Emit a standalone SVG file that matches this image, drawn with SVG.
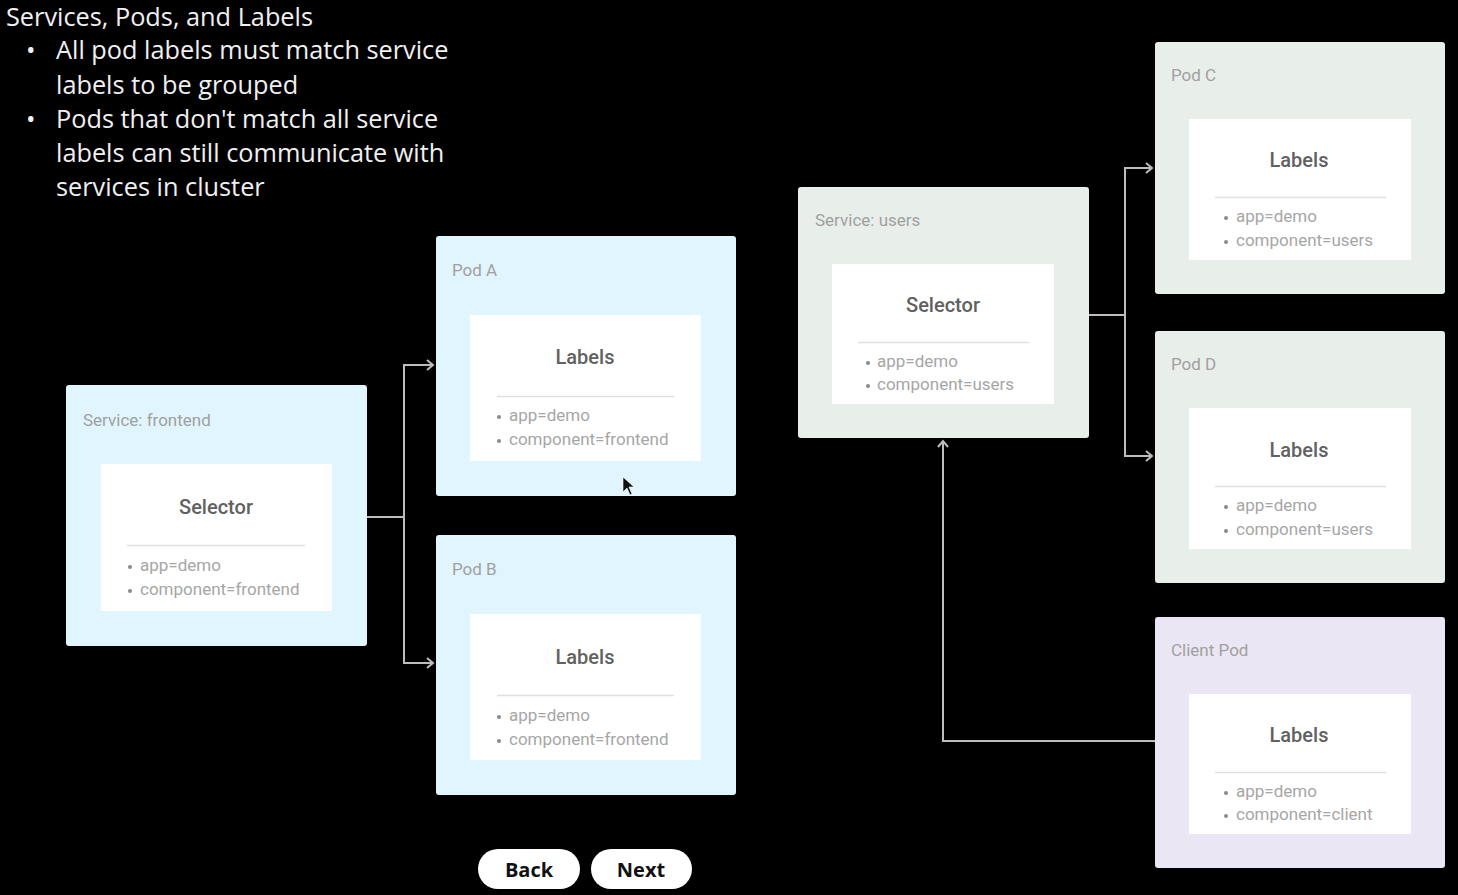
<svg xmlns="http://www.w3.org/2000/svg" width="1458" height="895" viewBox="0 0 1458 895">
<style>
.bg{fill:#000}
.h{font-family:"Open Sans","Noto Sans",sans-serif;font-size:25.3px;fill:#f0f0f0}
.blue{fill:#e1f5fe}
.green{fill:#e8efeb}
.purple{fill:#ebe6f3}
.card{fill:#fff}
.cap{font-family:Roboto,"Liberation Sans",sans-serif;font-size:17px;fill:#a0a0a0}
.ttl{font-family:Roboto,"Liberation Sans",sans-serif;font-size:20px;font-weight:500;fill:#616161;text-anchor:middle}
.li{font-family:Roboto,"Liberation Sans",sans-serif;font-size:17px;fill:#a6a6a6}
.dot{fill:#8a8a8a}
.div{stroke:#e0e0e0;stroke-width:1.5}
.con{fill:none;stroke:#bdbdbd;stroke-width:2}
.btn{fill:#fff}
.bt{font-family:"Open Sans","Noto Sans",sans-serif;font-size:20px;font-weight:700;fill:#111;text-anchor:middle}
</style>
<defs>
<marker id="arr" viewBox="0 0 12 12" refX="10" refY="6" markerWidth="12" markerHeight="12" markerUnits="userSpaceOnUse" orient="auto">
<path d="M4,1 L10,6 L4,11" fill="none" stroke="#bdbdbd" stroke-width="2"/>
</marker>
</defs>
<rect class="bg" x="0" y="0" width="1458" height="895"/>
<g id="heading">
<text class="h" x="6" y="26">Services, Pods, and Labels</text>
<text class="h" x="26" y="59">•</text>
<text class="h" x="56" y="59">All pod labels must match service</text>
<text class="h" x="56" y="94">labels to be grouped</text>
<text class="h" x="26" y="128">•</text>
<text class="h" x="56" y="128">Pods that don't match all service</text>
<text class="h" x="56" y="162">labels can still communicate with</text>
<text class="h" x="56" y="196">services in cluster</text>
</g>
<g id="connectors">
<path class="con" d="M367,517 H404"/>
<path class="con" d="M404,517 V365 H433" marker-end="url(#arr)"/>
<path class="con" d="M404,517 V663 H433" marker-end="url(#arr)"/>
<path class="con" d="M1089,315 H1125"/>
<path class="con" d="M1125,315 V168 H1152" marker-end="url(#arr)"/>
<path class="con" d="M1125,315 V456 H1152" marker-end="url(#arr)"/>
<path class="con" d="M1155,741 H943 V441" marker-end="url(#arr)"/>
</g>
<g id="service-frontend">
<rect class="blue" x="66" y="385" width="301" height="261" rx="3"/>
<text class="cap" x="83" y="426">Service: frontend</text>
<rect class="card" x="101" y="464" width="231" height="147"/>
<text class="ttl" x="216" y="514">Selector</text>
<line class="div" x1="127" y1="545.5" x2="305" y2="545.5"/>
<circle class="dot" cx="130" cy="567" r="2"/>
<circle class="dot" cx="130" cy="591" r="2"/>
<text class="li" x="140" y="571">app=demo</text>
<text class="li" x="140" y="595">component=frontend</text>
</g>
<g id="pod-a">
<rect class="blue" x="436" y="236" width="300" height="260" rx="3"/>
<text class="cap" x="452" y="276">Pod A</text>
<rect class="card" x="470" y="315" width="231" height="146"/>
<text class="ttl" x="585" y="364">Labels</text>
<line class="div" x1="497" y1="396.5" x2="674" y2="396.5"/>
<circle class="dot" cx="499" cy="417" r="2"/>
<circle class="dot" cx="499" cy="441" r="2"/>
<text class="li" x="509" y="421">app=demo</text>
<text class="li" x="509" y="445">component=frontend</text>
</g>
<g id="pod-b">
<rect class="blue" x="436" y="535" width="300" height="260" rx="3"/>
<text class="cap" x="452" y="575">Pod B</text>
<rect class="card" x="470" y="614" width="231" height="146"/>
<text class="ttl" x="585" y="664">Labels</text>
<line class="div" x1="497" y1="695.5" x2="674" y2="695.5"/>
<circle class="dot" cx="499" cy="717" r="2"/>
<circle class="dot" cx="499" cy="741" r="2"/>
<text class="li" x="509" y="721">app=demo</text>
<text class="li" x="509" y="745">component=frontend</text>
</g>
<g id="service-users">
<rect class="green" x="798" y="187" width="291" height="251" rx="3"/>
<text class="cap" x="815" y="226">Service: users</text>
<rect class="card" x="832" y="264" width="222" height="140"/>
<text class="ttl" x="943" y="312">Selector</text>
<line class="div" x1="858" y1="342.5" x2="1029" y2="342.5"/>
<circle class="dot" cx="868" cy="363" r="2"/>
<circle class="dot" cx="868" cy="386" r="2"/>
<text class="li" x="877" y="367">app=demo</text>
<text class="li" x="877" y="390">component=users</text>
</g>
<g id="pod-c">
<rect class="green" x="1155" y="42" width="290" height="252" rx="3"/>
<text class="cap" x="1171" y="81">Pod C</text>
<rect class="card" x="1189" y="119" width="222" height="141"/>
<text class="ttl" x="1299" y="167">Labels</text>
<line class="div" x1="1215" y1="197.5" x2="1386" y2="197.5"/>
<circle class="dot" cx="1226" cy="218" r="2"/>
<circle class="dot" cx="1226" cy="242" r="2"/>
<text class="li" x="1236" y="222">app=demo</text>
<text class="li" x="1236" y="246">component=users</text>
</g>
<g id="pod-d">
<rect class="green" x="1155" y="331" width="290" height="252" rx="3"/>
<text class="cap" x="1171" y="370">Pod D</text>
<rect class="card" x="1189" y="408" width="222" height="141"/>
<text class="ttl" x="1299" y="457">Labels</text>
<line class="div" x1="1215" y1="486.5" x2="1386" y2="486.5"/>
<circle class="dot" cx="1226" cy="507" r="2"/>
<circle class="dot" cx="1226" cy="531" r="2"/>
<text class="li" x="1236" y="511">app=demo</text>
<text class="li" x="1236" y="535">component=users</text>
</g>
<g id="client-pod">
<rect class="purple" x="1155" y="617" width="290" height="251" rx="3"/>
<text class="cap" x="1171" y="656">Client Pod</text>
<rect class="card" x="1189" y="694" width="222" height="140"/>
<text class="ttl" x="1299" y="742">Labels</text>
<line class="div" x1="1215" y1="772.5" x2="1386" y2="772.5"/>
<circle class="dot" cx="1226" cy="793" r="2"/>
<circle class="dot" cx="1226" cy="816" r="2"/>
<text class="li" x="1236" y="797">app=demo</text>
<text class="li" x="1236" y="820">component=client</text>
</g>
<g id="cursor">
<path d="M623,477 L623,492 L627,488 L630,495 L632,494 L629,487 L634,487 Z" fill="#111" stroke="#fff" stroke-width="0.6"/>
</g>
<g id="btn-back">
<rect class="btn" x="478" y="849" width="102" height="40" rx="20"/>
<text class="bt" x="529" y="877">Back</text>
</g>
<g id="btn-next">
<rect class="btn" x="591" y="849" width="101" height="40" rx="20"/>
<text class="bt" x="641" y="877">Next</text>
</g>
</svg>
